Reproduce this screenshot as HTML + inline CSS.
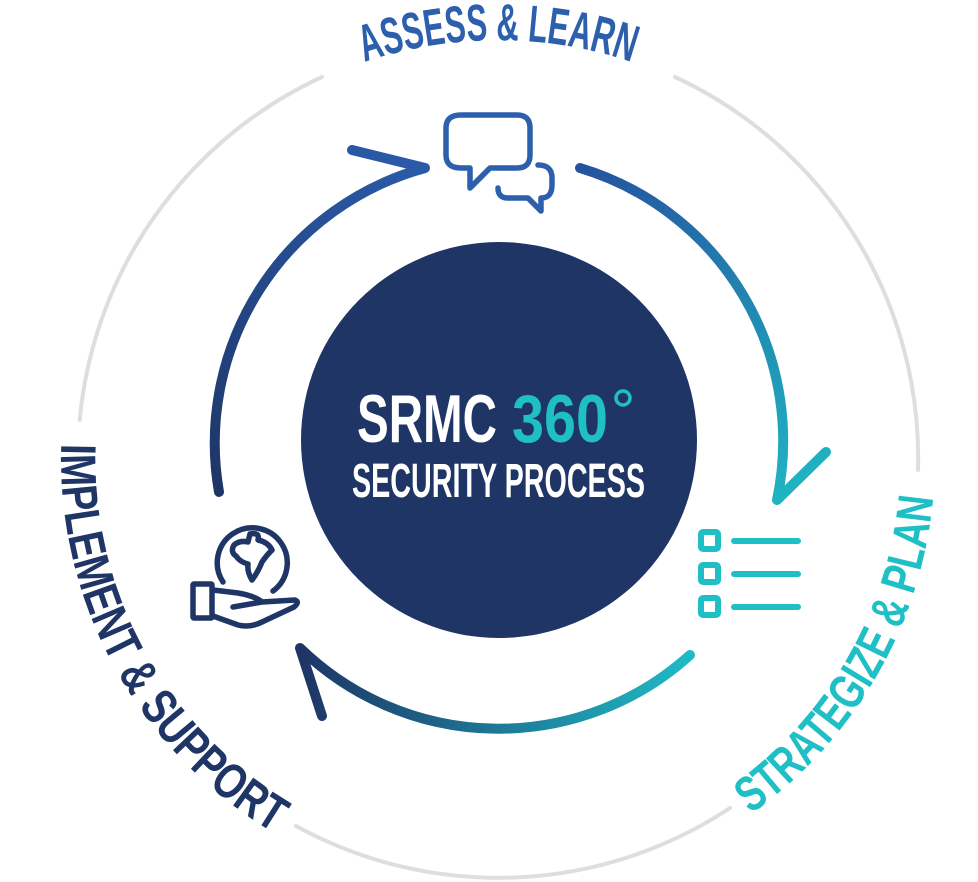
<!DOCTYPE html>
<html><head><meta charset="utf-8"><style>
html,body{margin:0;padding:0;background:#fff;}
svg{display:block;}
</style></head><body>
<svg width="978" height="882" viewBox="0 0 978 882" xmlns="http://www.w3.org/2000/svg">
<defs>
<linearGradient id="gTR" x1="580" y1="168" x2="790" y2="500" gradientUnits="userSpaceOnUse">
<stop offset="0" stop-color="#25539f"/><stop offset="1" stop-color="#1fb5c2"/></linearGradient>
<linearGradient id="gB" x1="690" y1="655" x2="300" y2="660" gradientUnits="userSpaceOnUse">
<stop offset="0" stop-color="#1fbac6"/><stop offset="1" stop-color="#1e3566"/></linearGradient>
<linearGradient id="gL" x1="220" y1="495" x2="425" y2="168" gradientUnits="userSpaceOnUse">
<stop offset="0" stop-color="#1e3566"/><stop offset="1" stop-color="#2a5aa8"/></linearGradient>
<path id="topPath" d="M80,458 A418,418 0 0 1 916,458"/>
<path id="botPath" d="M67.6,382.1 A437,437 0 1 0 928.4,382.1"/>
</defs>

<g fill="none" stroke="#dedede" stroke-width="4" stroke-linecap="round">
<path d="M79.7,420 A420,420 0 0 1 322,77"/>
<path d="M675,77 A420,420 0 0 1 918,470"/>
<path d="M730,808 A420,420 0 0 1 296,826"/>
</g>

<g fill="none" stroke-width="10" stroke-linecap="round" stroke-linejoin="round">
<path d="M580,168 A285,285 0 0 1 777,500 L826,452" stroke="url(#gTR)"/>
<path d="M690,655 A285,285 0 0 1 300,648 L322,716" stroke="url(#gB)"/>
<path d="M219,492 A285,285 0 0 1 425,168 L352,150" stroke="url(#gL)"/>
</g>

<circle cx="499" cy="440" r="198" fill="#1e3566"/>
<text x="357" y="442" font-family="Liberation Sans Narrow, Liberation Sans, sans-serif" font-weight="bold" font-size="68" fill="#fff" textLength="140" lengthAdjust="spacingAndGlyphs">SRMC</text>
<text x="512" y="442" font-family="Liberation Sans Narrow, Liberation Sans, sans-serif" font-weight="bold" font-size="68" fill="#1fbfc6" textLength="96" lengthAdjust="spacingAndGlyphs">360</text>
<circle cx="623" cy="398" r="7" fill="none" stroke="#1fbfc6" stroke-width="3.5"/>
<text x="352" y="497" font-family="Liberation Sans Narrow, Liberation Sans, sans-serif" font-weight="bold" font-size="48" fill="#fff" textLength="293" lengthAdjust="spacingAndGlyphs">SECURITY PROCESS</text>

<text font-family="Liberation Sans Narrow, Liberation Sans, sans-serif" font-weight="bold" font-size="52" fill="#2c5fac"><textPath href="#topPath" startOffset="50%" text-anchor="middle" textLength="272" lengthAdjust="spacingAndGlyphs">ASSESS &amp; LEARN</textPath></text>
<text font-family="Liberation Sans Narrow, Liberation Sans, sans-serif" font-weight="bold" font-size="50" fill="#1e3566"><textPath href="#botPath" startOffset="62" textLength="465" lengthAdjust="spacingAndGlyphs">IMPLEMENT &amp; SUPPORT</textPath></text>
<text font-family="Liberation Sans Narrow, Liberation Sans, sans-serif" font-weight="bold" font-size="50" fill="#1fbfc6"><textPath href="#botPath" startOffset="1032" textLength="377" lengthAdjust="spacingAndGlyphs">STRATEGIZE &amp; PLAN</textPath></text>

<g fill="none" stroke="#2c5fac" stroke-width="5.5" stroke-linecap="round" stroke-linejoin="round">
<path d="M461,115 H517 Q530,115 530,128 V155 Q530,168 517,168 H490 L470,188 L470,168 H461 Q446,168 446,155 V128 Q446,115 461,115 Z"/>
<path d="M538,165 Q552,165 552,178 V185 Q552,198 541,198 V211 L528,198 H508 Q498,198 498,188"/>
</g>

<g fill="none" stroke="#1fbfc6" stroke-width="6" stroke-linecap="round">
<rect x="701" y="532" width="17" height="17" rx="2"/>
<rect x="701" y="565" width="17" height="17" rx="2"/>
<rect x="701" y="598" width="17" height="17" rx="2"/>
<path d="M734,541 H798 M734,574 H798 M734,607 H798"/>
</g>

<g fill="none" stroke="#1e3566" stroke-width="5.5" stroke-linecap="round" stroke-linejoin="round">
<path d="M223,582 A35,35 0 1 1 273,591"/>
<path d="M250,534 Q260,532 258,540 Q268,542 272,550 Q266,556 262,562 Q258,572 252,580 Q247,572 248,564 Q240,562 236,556 Q230,552 234,545 Q240,540 248,542 Z"/>
<rect x="193" y="584" width="19" height="34" rx="1"/>
<path d="M213,590 L238,593 Q255,596 262,602 L233,607 M262,602 L295,600 Q300,602 294,607 L262,622 Q250,628 238,625 L213,616"/>
</g>
</svg>
</body></html>
